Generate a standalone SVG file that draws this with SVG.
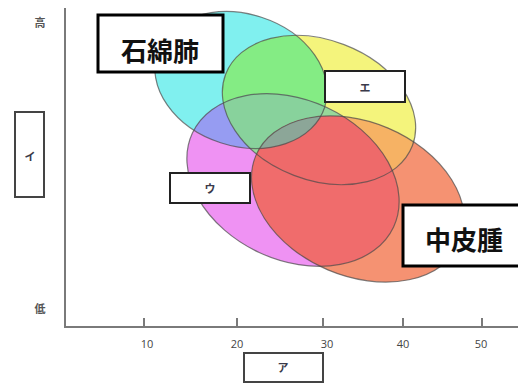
<svg xmlns="http://www.w3.org/2000/svg" xmlns:xlink="http://www.w3.org/1999/xlink" width="518" height="383" viewBox="0 0 518 383">
<style>
.axis{stroke:#7a7a7a;stroke-width:2;fill:none}
.tick{font-family:"Open Sans","Liberation Sans",sans-serif;font-size:11px;fill:#444;text-anchor:middle}
.jp{font-family:"Noto Sans CJK JP",sans-serif;font-weight:bold;text-anchor:middle}
.small{font-size:11px;fill:#3a3a4a}
.big{font-size:26px;fill:#111}
.box{fill:#fff;stroke:#222;stroke-width:2}
.bbox{fill:#fff;stroke:#000;stroke-width:3}
.gbox{fill:#fff;stroke:#444;stroke-width:2}
.outline{fill:none;stroke:#4a4a4a;stroke-opacity:.7;stroke-width:1.2}
</style>
<defs>
<ellipse id="eC" cx="241" cy="80" rx="88" ry="66" transform="rotate(18 241 80)"/>
<ellipse id="eY" cx="319" cy="110" rx="100" ry="70" transform="rotate(21 319 110)"/>
<ellipse id="eM" cx="293" cy="180" rx="111" ry="80" transform="rotate(25 293 180)"/>
<ellipse id="eO" cx="358" cy="199" rx="111" ry="77" transform="rotate(23 358 199)"/>
<clipPath id="cC"><ellipse cx="241" cy="80" rx="88" ry="66" transform="rotate(18 241 80)"/></clipPath>
<clipPath id="cY"><ellipse cx="319" cy="110" rx="100" ry="70" transform="rotate(21 319 110)"/></clipPath>
<clipPath id="cM"><ellipse cx="293" cy="180" rx="111" ry="80" transform="rotate(25 293 180)"/></clipPath>
</defs>

<g id="axes">
<path class="axis" d="M65 8 V327 H518"/>
<path class="axis" d="M144 318 V327 M237 318 V327 M323 318 V327 M403 318 V327 M482 318 V327"/>
<text class="tick" x="147" y="348">10</text>
<text class="tick" x="237" y="348">20</text>
<text class="tick" x="327" y="348">30</text>
<text class="tick" x="403" y="348">40</text>
<text class="tick" x="481" y="348">50</text>
<text class="jp small" x="40" y="27" style="fill:#555">高</text>
<text class="jp small" x="40" y="313" style="fill:#555">低</text>
</g>

<g id="ellipses">
<use xlink:href="#eC" fill="#80f0ef"/>
<use xlink:href="#eY" fill="#f4f47c"/>
<use xlink:href="#eM" fill="#ef92f3"/>
<use xlink:href="#eO" fill="#f59272"/>
<use xlink:href="#eY" fill="#84ec84" clip-path="url(#cC)"/>
<use xlink:href="#eM" fill="#969cf2" clip-path="url(#cC)"/>
<g clip-path="url(#cY)"><use xlink:href="#eM" fill="#98d89a"/></g>
<g clip-path="url(#cY)"><use xlink:href="#eM" fill="#88d29c" clip-path="url(#cC)"/></g>
<use xlink:href="#eO" fill="#f6b264" clip-path="url(#cY)"/>
<use xlink:href="#eO" fill="#f06c6c" clip-path="url(#cM)"/>
<g clip-path="url(#cY)"><use xlink:href="#eO" fill="#ee6a6a" clip-path="url(#cM)"/></g>
<g clip-path="url(#cC)"><g clip-path="url(#cY)"><use xlink:href="#eO" fill="#8ca698" clip-path="url(#cM)"/></g></g>
<use xlink:href="#eC" class="outline"/>
<use xlink:href="#eY" class="outline"/>
<use xlink:href="#eM" class="outline"/>
<use xlink:href="#eO" class="outline"/>
</g>

<g id="label-asbestosis">
<rect class="bbox" x="98" y="15" width="125" height="57"/>
<text class="jp big" x="160" y="61">石綿肺</text>
</g>
<g id="label-e">
<rect class="box" x="325" y="71" width="80" height="31"/>
<text class="jp small" x="365" y="92">エ</text>
</g>
<g id="label-u">
<rect class="box" x="170" y="173" width="80" height="30"/>
<text class="jp small" x="210" y="193">ウ</text>
</g>
<g id="label-mesothelioma">
<rect class="bbox" x="403" y="205" width="118" height="61"/>
<text class="jp big" x="464" y="250">中皮腫</text>
</g>
<g id="label-i">
<rect class="gbox" x="15" y="112" width="29" height="85"/>
<text class="jp small" x="30" y="161">イ</text>
</g>
<g id="label-a">
<rect class="gbox" x="244" y="353" width="79" height="29"/>
<text class="jp small" x="283" y="372">ア</text>
</g>
</svg>
